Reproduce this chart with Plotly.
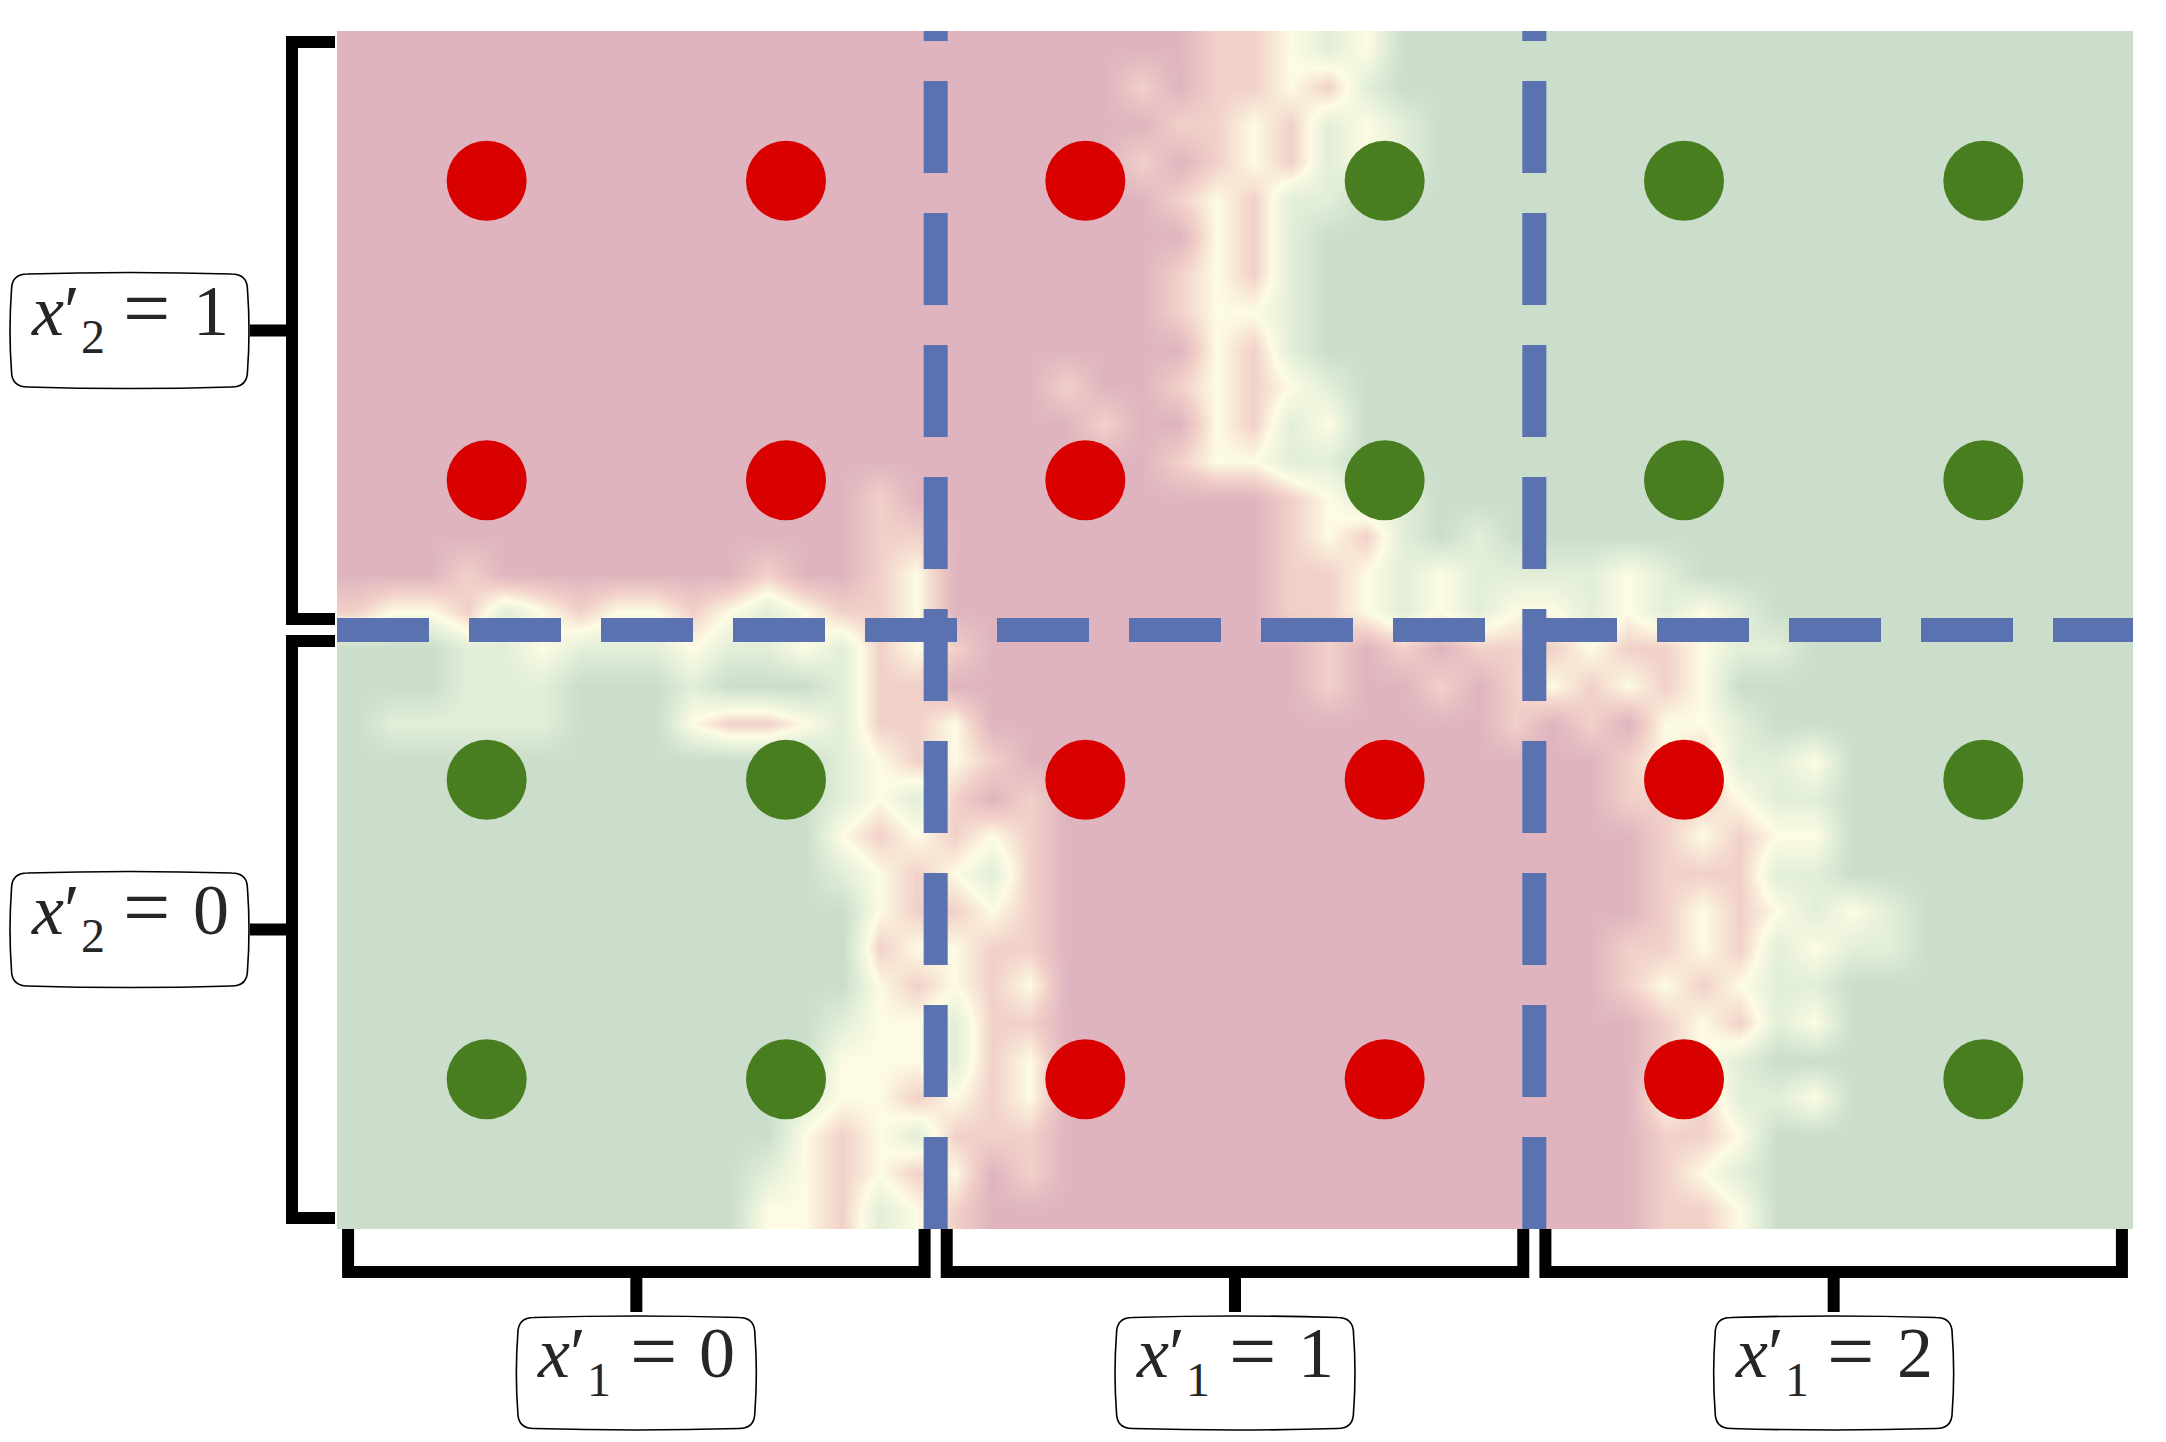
import plotly.graph_objects as go

# ------------------------------------------------------------------ data
# feature sections: x1' spans [v, v+1] on x, x2' spans [v, v+1] on y
x1_sections = [0, 1, 2]
x2_sections = [0, 1]
x1_values = ["0", "1", "2"]
x2_values = ["0", "1"]

# section boundaries (dashed lines)
boundary_x = [1, 2]
boundary_y = [1]

# training points
point_x = [0.25, 0.75, 1.25, 1.75, 2.25, 2.75,
           0.25, 0.75, 1.25, 1.75, 2.25, 2.75,
           0.25, 0.75, 1.25, 1.75, 2.25, 2.75,
           0.25, 0.75, 1.25, 1.75, 2.25, 2.75]
point_y = [1.75, 1.75, 1.75, 1.75, 1.75, 1.75,
           1.25, 1.25, 1.25, 1.25, 1.25, 1.25,
           0.75, 0.75, 0.75, 0.75, 0.75, 0.75,
           0.25, 0.25, 0.25, 0.25, 0.25, 0.25]
point_class = [0, 0, 0, 1, 1, 1,
               0, 0, 0, 1, 1, 1,
               1, 1, 0, 0, 0, 1,
               1, 1, 0, 0, 0, 1]

# background decision field, rows from top (y=2) to bottom (y=0), 48 cells per row
# R = strong class 0, r = weak class 0, y = uncertain, g = weak class 1, G = strong class 1
field_rows = [
    "RRRRRRRRRRRRRRRRRRRRRRRrrygyGGGGGGGGGGGGGGGGGGGG",
    "RRRRRRRRRRRRRRRRRRRRRrRrryrgGGGGGGGGGGGGGGGGGGGG",
    "RRRRRRRRRRRRRRRRRRRRRRrryrgygGGGGGGGGGGGGGGGGGGG",
    "RRRRRRRRRRRRRRRRRRRRRrRryrgygGGGGGGGGGGGGGGGGGGG",
    "RRRRRRRRRRRRRRRRRRRRRRryrggGGGGGGGGGGGGGGGGGGGGG",
    "RRRRRRRRRRRRRRRRRRRRRRRyrgGGGGGGGGGGGGGGGGGGGGGG",
    "RRRRRRRRRRRRRRRRRRRRRRryrgGGGGGGGGGGGGGGGGGGGGGG",
    "RRRRRRRRRRRRRRRRRRRRRRryygGGGGGGGGGGGGGGGGGGGGGG",
    "RRRRRRRRRRRRRRRRRRRRRRRyrgGGGGGGGGGGGGGGGGGGGGGG",
    "RRRRRRRRRRRRRRRRRRRrRRryrygGGGGGGGGGGGGGGGGGGGGG",
    "RRRRRRRRRRRRRRRRRRRRrRRyrgyGGGGGGGGGGGGGGGGGGGGG",
    "RRRRRRRRRRRRRRRRRRRRRRryyggGGGGGGGGGGGGGGGGGGGGG",
    "RRRRRRRRRRRRRRrRRRRRRRRRRryggGGGGGGGGGGGGGGGGGGG",
    "RRRRRRRRRRRRRRrrRRRRRRRRRryrgGgGGGGGGGGGGGGGGGGG",
    "RRRrRRRRRRRrRRryRRRRRRRRRrrygyggggygGGGGGGGGGGGG",
    "ryyrgyryyrygyrryRRRRRRRRRrrygygyygygygGGGGGGGGGG",
    "GGGggygggyggygryrRRRRRRRRRrRrRrrryrryggGGGGGGGGG",
    "GGGgggGGGgGGGgrrRRRRRRRRRRrRRrRryryryGGGGGGGGGGG",
    "GgggggGGGyrrygrryRRRRRRRRRRRRRRrRrRyygGGGGGGGGGG",
    "GGGGGGGGGGGGGgyryrRRRRRRRRRRRRRRRRryrggyGGGGGGGG",
    "GGGGGGGGGGGGGgygrRrRRRRRRRRRRRRRRRrrryggGGGGGGGG",
    "GGGGGGGGGGGGGyryryrRRRRRRRRRRRRRRRRryryyGGGGGGGG",
    "GGGGGGGGGGGGGgyrygrRRRRRRRRRRRRRRRRrrrggGGGGGGGG",
    "GGGGGGGGGGGGGGyrryrRRRRRRRRRRRRRRRRryrygygGGGGGG",
    "GGGGGGGGGGGGGGryyrrRRRRRRRRRRRRRRRrryrgyggGGGGGG",
    "GGGGGGGGGGGGGGyryryRRRRRRRRRRRRRRRryryggGGGGGGGG",
    "GGGGGGGGGGGGGgyygrrRRRRRRRRRRRRRRRRryrgyGGGGGGGG",
    "GGGGGGGGGGGGGyyygryRRRRRRRRRRRRRRRRrygGGGGGGGGGG",
    "GGGGGGGGGGGGgyyryryRRRRRRRRRRRRRRRRyrggyGGGGGGGG",
    "GGGGGGGGGGGGyrygrrrRRRRRRRRRRRRRRRRrryGGGGGGGGGG",
    "GGGGGGGGGGGgyryryRrRRRRRRRRRRRRRRRRrygGGGGGGGGGG",
    "GGGGGGGGGGGyyrgyrRRRRRRRRRRRRRRRRRRrryGGGGGGGGGG",
]
level_values = {"R": -1.0, "r": -0.5, "y": 0.0, "g": 0.5, "G": 1.0}

# ------------------------------------------------------------------ style
FIG_W, FIG_H = 2166, 1442
M_L, M_R, M_T, M_B = 337, 33, 31, 213
PLOT_W = FIG_W - M_L - M_R
PLOT_H = FIG_H - M_T - M_B
X_RANGE = [0, 3]
Y_RANGE = [0, 2]

field_colors = [[0.0, "#DFB4BF"], [0.25, "#F1D0C8"], [0.5, "#FDFBE3"],
                [0.75, "#E2EED8"], [1.0, "#CADECB"]]
class_colors = {0: "#D90000", 1: "#487E1F"}
line_color = "#5A72AF"
ink = "#000000"
text_color = "#262626"
FONT = "Liberation Serif"


def px_x(px):      # figure pixel x -> paper
    return (px - M_L) / PLOT_W


def px_y(py):      # figure pixel y -> paper
    return (FIG_H - M_B - py) / PLOT_H


def data_px_x(x):
    return M_L + (x - X_RANGE[0]) / (X_RANGE[1] - X_RANGE[0]) * PLOT_W


def data_px_y(y):
    return FIG_H - M_B - (y - Y_RANGE[0]) / (Y_RANGE[1] - Y_RANGE[0]) * PLOT_H


def path_from_px(points, close=False):
    s = "M " + " L ".join(f"{px_x(a):.5f},{px_y(b):.5f}" for a, b in points)
    return s + (" Z" if close else "")


def rounded_box(cx, cy, w, h, r):
    x0, x1 = cx - w / 2, cx + w / 2
    y0, y1 = cy - h / 2, cy + h / 2
    P = lambda a, b: f"{px_x(a):.5f},{px_y(b):.5f}"
    return (f"M {P(x0 + r, y0)} Q {P(cx, y0 - 3)} {P(x1 - r, y0)} "
            f"Q {P(x1, y0)} {P(x1, y0 + r)} "
            f"Q {P(x1 + 3, cy)} {P(x1, y1 - r)} "
            f"Q {P(x1, y1)} {P(x1 - r, y1)} "
            f"Q {P(cx, y1 + 3)} {P(x0 + r, y1)} "
            f"Q {P(x0, y1)} {P(x0, y1 - r)} "
            f"Q {P(x0 - 3, cy)} {P(x0, y0 + r)} "
            f"Q {P(x0, y0)} {P(x0 + r, y0)} Z")


def text_piece(txt, px, py_mid, size, anchor="center"):
    return dict(text=txt, xref="paper", yref="paper", x=px_x(px), y=px_y(py_mid),
                xanchor=anchor, yanchor="middle", showarrow=False, borderpad=0,
                font=dict(family=FONT, size=size, color=text_color))


def math_label(cx, cy, sub, val):
    """x'_sub = val, built from pieces placed around the box centre."""
    asc = 0.3375   # baseline -> middle of line box, in em
    base = cy + 4.5
    return [
        text_piece("<i>x</i>′", cx - 100, base - asc * 72, 72, "left"),
        text_piece(sub, cx - 50, base + 18 - asc * 48, 48, "left"),
        text_piece("=", cx + 17, base + 2 - asc * 84, 84),
        text_piece(val, cx + 81, base - asc * 72, 72),
    ]


fig = go.Figure()

# background field
z = [[level_values[ch] for ch in row] for row in reversed(field_rows)]
n_rows, n_cols = len(field_rows), len(field_rows[0])
fig.add_trace(go.Heatmap(
    z=z,
    x0=X_RANGE[0] + (X_RANGE[1] - X_RANGE[0]) / n_cols / 2,
    dx=(X_RANGE[1] - X_RANGE[0]) / n_cols,
    y0=Y_RANGE[0] + (Y_RANGE[1] - Y_RANGE[0]) / n_rows / 2,
    dy=(Y_RANGE[1] - Y_RANGE[0]) / n_rows,
    zmin=-1, zmax=1, colorscale=field_colors, showscale=False,
    zsmooth="best", hoverinfo="skip",
))

# dashed section boundaries
DASH = "92px,40px"
for bx in boundary_x:
    fig.add_trace(go.Scatter(x=[bx, bx], y=Y_RANGE, mode="lines",
                             line=dict(color=line_color, width=24, dash=DASH),
                             hoverinfo="skip", showlegend=False))
for by in boundary_y:
    fig.add_trace(go.Scatter(x=X_RANGE, y=[by, by], mode="lines",
                             line=dict(color=line_color, width=24, dash=DASH),
                             hoverinfo="skip", showlegend=False))

# points
fig.add_trace(go.Scatter(
    x=point_x, y=point_y, mode="markers",
    marker=dict(size=80, color=[class_colors[c] for c in point_class],
                line=dict(width=0)),
    hoverinfo="skip", showlegend=False,
))

shapes = []
annotations = []
INSET = 0.0185
BRK_W = 12

# left brackets (x2')
x_arm = M_L - 2
x_vert = 292
x_stem = 250
for s, val in zip(x2_sections, x2_values):
    y_lo = data_px_y(s + INSET)
    y_hi = data_px_y(s + 1 - INSET)
    y_mid = data_px_y(s + 0.5)
    shapes.append(dict(type="path", xref="paper", yref="paper",
                       path=path_from_px([(x_arm, y_hi), (x_vert, y_hi), (x_vert, y_lo), (x_arm, y_lo)]),
                       line=dict(color=ink, width=BRK_W)))
    shapes.append(dict(type="path", xref="paper", yref="paper",
                       path=path_from_px([(x_vert, y_mid), (x_stem, y_mid)]),
                       line=dict(color=ink, width=BRK_W)))
    shapes.append(dict(type="path", xref="paper", yref="paper",
                       path=rounded_box(129.5, y_mid, 236, 113, 16),
                       line=dict(color=ink, width=1.6)))
    annotations += math_label(129.5, y_mid, "2", val)

# bottom brackets (x1')
y_top = FIG_H - M_B
y_bar = 1272
y_stem = 1312
for s, val in zip(x1_sections, x1_values):
    x_lo = data_px_x(s + INSET)
    x_hi = data_px_x(s + 1 - INSET)
    x_mid = data_px_x(s + 0.5)
    shapes.append(dict(type="path", xref="paper", yref="paper",
                       path=path_from_px([(x_lo, y_top), (x_lo, y_bar), (x_hi, y_bar), (x_hi, y_top)]),
                       line=dict(color=ink, width=BRK_W)))
    shapes.append(dict(type="path", xref="paper", yref="paper",
                       path=path_from_px([(x_mid, y_bar), (x_mid, y_stem)]),
                       line=dict(color=ink, width=BRK_W)))
    shapes.append(dict(type="path", xref="paper", yref="paper",
                       path=rounded_box(x_mid, 1373, 237, 111, 16),
                       line=dict(color=ink, width=1.6)))
    annotations += math_label(x_mid, 1373, "1", val)

fig.update_layout(
    width=FIG_W, height=FIG_H,
    margin=dict(l=M_L, r=M_R, t=M_T, b=M_B, pad=0),
    paper_bgcolor="white", plot_bgcolor="white",
    showlegend=False,
    xaxis=dict(range=X_RANGE, visible=False, showgrid=False, zeroline=False, fixedrange=True),
    yaxis=dict(range=Y_RANGE, visible=False, showgrid=False, zeroline=False, fixedrange=True),
    shapes=shapes, annotations=annotations,
)

fig.write_html("out.html")
